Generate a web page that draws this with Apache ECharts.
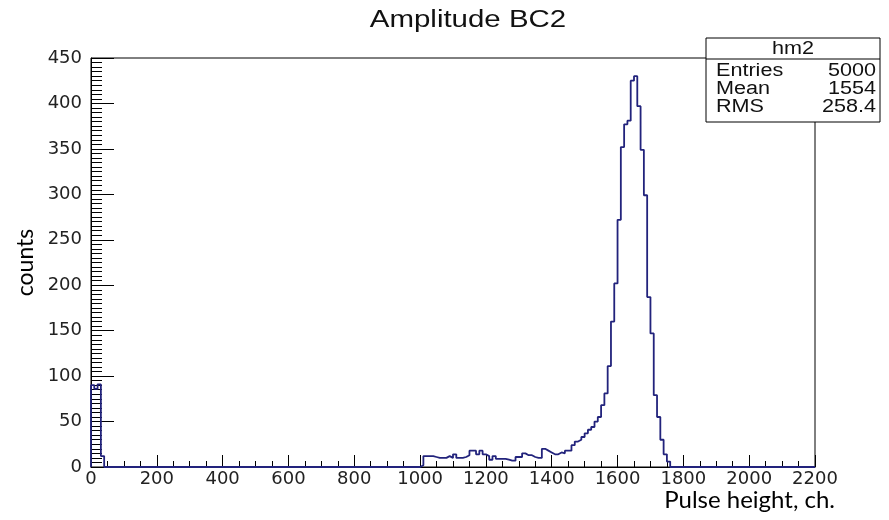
<!DOCTYPE html>
<html>
<head>
<meta charset="utf-8">
<script src="https://cdn.jsdelivr.net/npm/echarts@6/dist/echarts.min.js"></script>
<style>
html,body{margin:0;padding:0;background:#fff;}
#chart{width:889px;height:520px;}
</style>
</head>
<body>
<div id="chart"></div>
<script>
// ---- data ----
var chartTitle = 'Amplitude BC2';
var xAxisTitle = 'Pulse height, ch.';
var yAxisTitle = 'counts';
var binWidth = 10;
var lowStart = 0;
var lowCounts = [90, 86, 91, 12];
var mainStart = 1000;
var mainCounts = [
  2, 12, 12, 12, 11, 10, 10, 10, 12, 10,
  14, 10, 10, 11, 13, 18, 18, 14, 18, 14,
  12, 8, 12, 9, 9, 9, 8, 7, 7, 11,
  11, 15, 13, 13, 11, 10, 10, 20, 18, 16,
  14, 14, 16, 15, 18, 18, 24, 28, 30, 33,
  37, 41, 44, 50, 55, 68, 81, 111, 160, 202,
  272, 352, 377, 381, 425, 430, 397, 349, 299, 187,
  147, 79, 55, 30, 14, 6
];
var xTicks = [0, 2200, 200];
var yTicks = [0, 450, 50];
var statsName = 'hm2';
var statsLabels = ['Entries', 'Mean', 'RMS'];
var statsValues = ['5000', '1554', '258.4'];

// ---- build step outline ----
function section(start, counts, pts) {
  pts.push([start, 0]);
  for (var i = 0; i < counts.length; i++) pts.push([start + i * binWidth, counts[i]]);
  pts.push([start + counts.length * binWidth, 0]);
}
var pts = [];
section(lowStart, lowCounts, pts);
section(mainStart, mainCounts, pts);
pts.push([xTicks[1], 0]);

var chart = echarts.init(document.getElementById('chart'), null, {renderer: 'canvas'});
var lblFont = 'DejaVu Sans';
var gl = 91, gt = 58, gw = 724, gh = 409;
var statFont = '18px "Liberation Sans"';
var sx = 1.2;

function statText(x, y, txt, align) {
  return {type: 'text', x: x, y: y, scaleX: sx,
    style: {text: txt, font: statFont, fill: '#111', align: align, verticalAlign: 'middle'}};
}

chart.setOption({
  backgroundColor: '#fff',
  animation: false,
  grid: {left: gl, top: gt, width: gw, height: gh, show: true, borderColor: '#000', borderWidth: 1, backgroundColor: 'transparent'},
  xAxis: {
    type: 'value', min: xTicks[0], max: xTicks[1], interval: xTicks[2],
    axisLine: {show: true, onZero: false, lineStyle: {color: '#000', width: 1}},
    axisTick: {show: true, inside: true, length: 12, lineStyle: {color: '#000'}},
    minorTick: {show: true, splitNumber: 4, length: 6, lineStyle: {color: '#000', width: 1}},
    splitLine: {show: false},
    axisLabel: {fontFamily: lblFont, fontSize: 18, color: '#222', margin: 3,
      formatter: function (v) { return String(v); }}
  },
  yAxis: {
    type: 'value', min: yTicks[0], max: yTicks[1], interval: yTicks[2],
    name: yAxisTitle, nameLocation: 'middle', nameRotate: 90, nameGap: 50,
    nameTextStyle: {fontFamily: 'Lato', fontSize: 23, color: '#000'},
    axisLine: {show: true, lineStyle: {color: '#000', width: 1}},
    axisTick: {show: true, inside: true, length: 23, lineStyle: {color: '#000'}},
    minorTick: {show: true, splitNumber: 10, length: 11, lineStyle: {color: '#000', width: 1}},
    splitLine: {show: false},
    axisLabel: {fontFamily: lblFont, fontSize: 18, color: '#222', margin: 9,
      formatter: function (v) { return String(v); }}
  },
  series: [{
    type: 'line', step: 'end', data: pts, showSymbol: false, symbol: 'none',
    lineStyle: {color: '#22237c', width: 1.8}, z: 3
  }],
  graphic: [
    {type: 'text', x: 468, y: 21, z: 50, scaleX: 1.28,
     style: {text: chartTitle, font: '23px "Liberation Sans"', fill: '#111', align: 'center', verticalAlign: 'middle'}},
    {type: 'text', z: 50, x: 835, y: 500,
     style: {text: xAxisTitle, font: '24px Lato', fill: '#000', align: 'right', verticalAlign: 'middle'}},
    {type: 'group', z: 100, x: 706, y: 38, children: [
      {type: 'rect', shape: {x: 0, y: 0, width: 174, height: 84}, style: {fill: '#fff', stroke: '#000', lineWidth: 1}},
      {type: 'line', shape: {x1: 0, y1: 21, x2: 174, y2: 21}, style: {stroke: '#000', lineWidth: 1}},
      statText(87, 11, statsName, 'center'),
      statText(10, 33, statsLabels[0], 'left'),
      statText(10, 51, statsLabels[1], 'left'),
      statText(10, 69, statsLabels[2], 'left'),
      statText(170, 33, statsValues[0], 'right'),
      statText(170, 51, statsValues[1], 'right'),
      statText(170, 69, statsValues[2], 'right')
    ]}
  ]
});
</script>
</body>
</html>
